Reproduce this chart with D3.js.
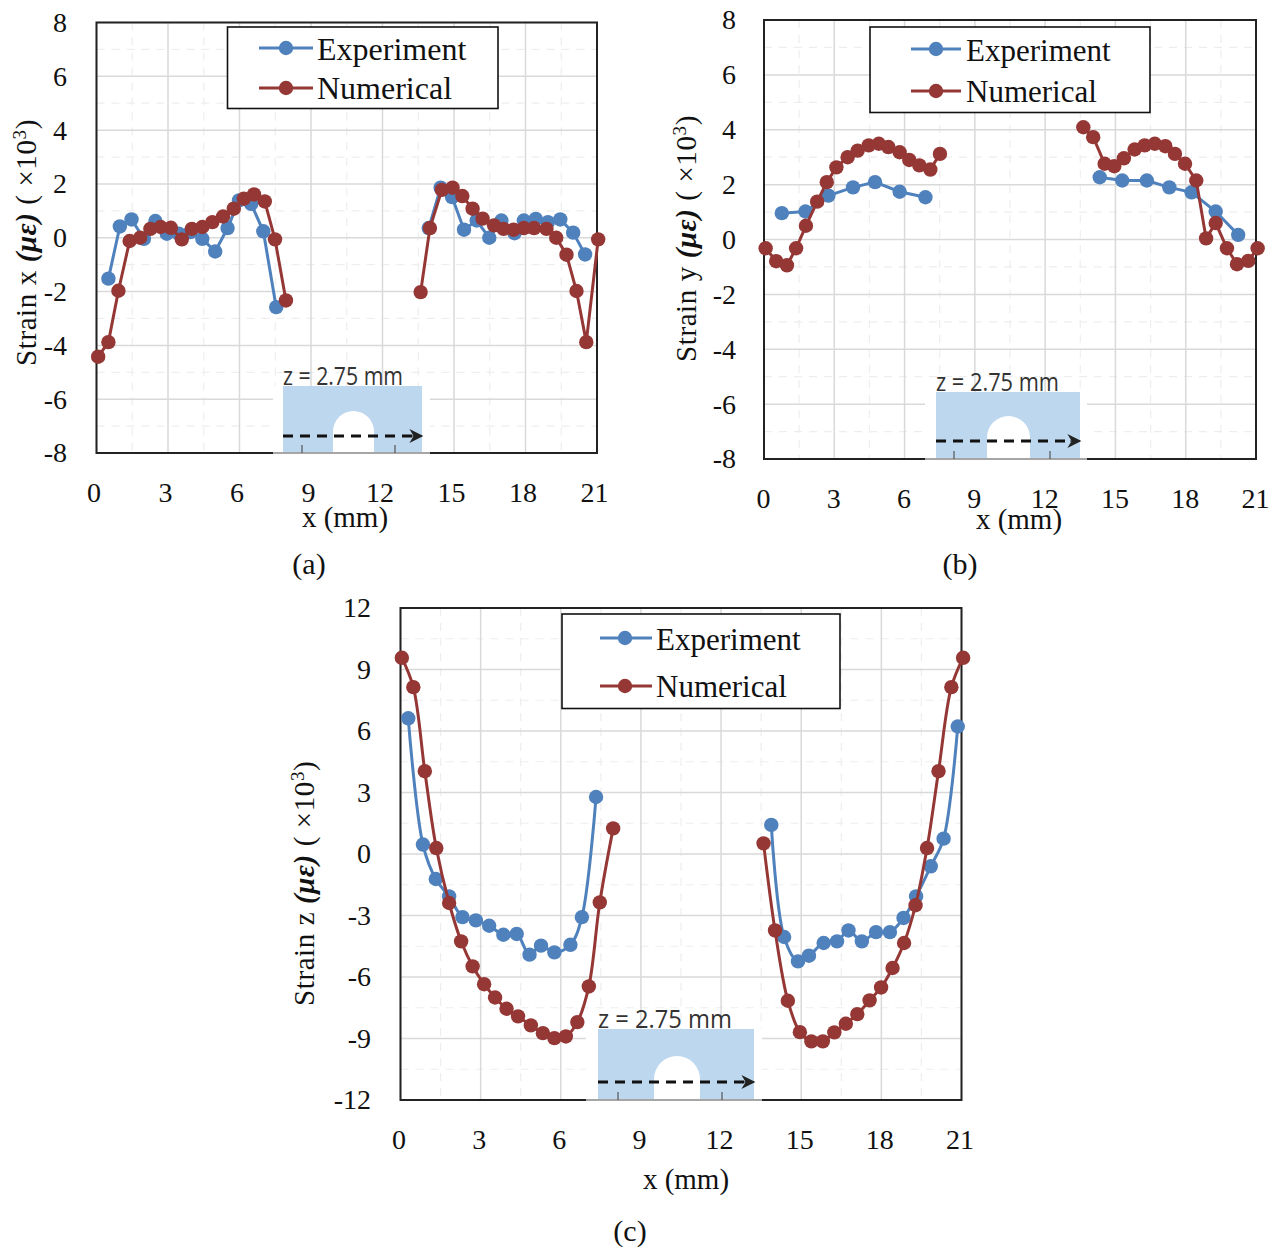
<!DOCTYPE html>
<html>
<head>
<meta charset="utf-8">
<script src="https://cdnjs.cloudflare.com/ajax/libs/d3/7.8.5/d3.min.js"></script>
<style>
  html, body { margin: 0; background: #fff; }
  text { font-family: "Liberation Serif", serif; fill: #111; }
</style>
</head>
<body>
<svg id="fig" width="1282" height="1250"></svg>
<script>
// values, null = gap around the hole
const xTicks = [0, 3, 6, 9, 12, 15, 18, 21];
const yTicksXY = [-8, -6, -4, -2, 0, 2, 4, 6, 8];
const yTicksZ = [-12, -9, -6, -3, 0, 3, 6, 9, 12];
const seriesNames = ['Experiment', 'Numerical'];

const expXa = [0.5, 0.98, 1.47, 1.99, 2.47, 2.95, 3.45, 3.94, 4.44, 4.98, 5.5, 5.98, 6.49, 7.0, 7.54, null,
  13.94, 14.44, 14.92, 15.42, 15.95, 16.48, 16.99, 17.54, 17.93, 18.43, 18.94, 19.46, 20.0, 20.5];
const expYa = [-1.52, 0.42, 0.68, -0.04, 0.62, 0.15, 0.15, 0.21, -0.04, -0.51, 0.36, 1.39, 1.26, 0.24, -2.58, null,
  0.36, 1.86, 1.51, 0.3, 0.64, 0, 0.64, 0.17, 0.64, 0.7, 0.58, 0.68, 0.19, -0.62];
const numXa = [0.07, 0.5, 0.92, 1.39, 1.83, 2.26, 2.69, 3.12, 3.58, 4.0, 4.44, 4.86, 5.31, 5.76, 6.18, 6.61, 7.06, 7.49, 7.95, null,
  13.6, 13.99, 14.49, 14.94, 15.35, 15.78, 16.2, 16.68, 17.08, 17.5, 17.93, 18.36, 18.88, 19.29, 19.72, 20.14, 20.55, 21.05];
const numYa = [-4.42, -3.88, -1.97, -0.12, 0, 0.33, 0.4, 0.37, -0.06, 0.33, 0.4, 0.58, 0.79, 1.08, 1.45, 1.61, 1.35, -0.06, -2.33, null,
  -2.02, 0.36, 1.78, 1.86, 1.55, 1.08, 0.71, 0.46, 0.33, 0.3, 0.36, 0.36, 0.33, 0, -0.63, -1.98, -3.88, -0.06];

const expXb = [0.76, 1.77, 2.75, 3.8, 4.74, 5.79, 6.89, null,
  14.33, 15.29, 16.34, 17.3, 18.25, 19.28, 20.24];
const expYb = [0.96, 1.02, 1.6, 1.9, 2.09, 1.74, 1.54, null,
  2.27, 2.15, 2.15, 1.9, 1.72, 1.02, 0.17];
const numXb = [0.07, 0.52, 0.98, 1.37, 1.79, 2.27, 2.68, 3.09, 3.57, 4.0, 4.47, 4.9, 5.31, 5.79, 6.2, 6.63, 7.1, 7.51, null,
  13.63, 14.05, 14.54, 14.95, 15.36, 15.82, 16.25, 16.68, 17.13, 17.54, 17.97, 18.45, 18.87, 19.28, 19.76, 20.19, 20.67, 21.07];
const numYb = [-0.32, -0.79, -0.94, -0.32, 0.5, 1.38, 2.09, 2.63, 3.0, 3.24, 3.43, 3.49, 3.37, 3.18, 2.9, 2.7, 2.55, 3.12, null,
  4.09, 3.73, 2.76, 2.67, 2.96, 3.28, 3.43, 3.49, 3.4, 3.12, 2.76, 2.15, 0.04, 0.6, -0.32, -0.9, -0.78, -0.32];

const expXc = [0.29, 0.84, 1.32, 1.82, 2.32, 2.82, 3.32, 3.85, 4.35, 4.83, 5.26, 5.76, 6.36, 6.79, 7.32, null,
  13.88, 14.36, 14.88, 15.29, 15.84, 16.34, 16.77, 17.27, 17.8, 18.32, 18.83, 19.3, 19.85, 20.33, 20.86];
const expYc = [6.62, 0.46, -1.22, -2.07, -3.08, -3.24, -3.5, -3.94, -3.9, -4.91, -4.47, -4.8, -4.43, -3.08, 2.78, null,
  1.42, -4.05, -5.24, -4.96, -4.34, -4.26, -3.73, -4.26, -3.81, -3.81, -3.12, -2.07, -0.6, 0.75, 6.22];
const numXc = [0.05, 0.48, 0.91, 1.34, 1.82, 2.27, 2.7, 3.13, 3.54, 3.97, 4.4, 4.88, 5.33, 5.76, 6.19, 6.62, 7.05, 7.46, 7.96, null,
  13.59, 14.02, 14.5, 14.95, 15.38, 15.81, 16.24, 16.67, 17.1, 17.56, 17.99, 18.42, 18.85, 19.28, 19.71, 20.14, 20.62, 21.06];
const numYc = [9.57, 8.14, 4.04, 0.29, -2.39, -4.26, -5.48, -6.35, -7.0, -7.55, -7.92, -8.36, -8.74, -8.98, -8.9, -8.2, -6.46, -2.36, 1.25, null,
  0.52, -3.73, -7.16, -8.69, -9.14, -9.14, -8.7, -8.28, -7.81, -7.14, -6.51, -5.56, -4.34, -2.5, 0.29, 4.04, 8.14, 9.57];

const blue = '#4f81bd';
const red = '#953735';
const colors = [blue, red];
const dotR = 7.2;

// layout of each panel, in page pixels
const panels = [
  {
    axis: 'x', caption: '(a)', yTicks: yTicksXY, minorY: 1,
    exp: [expXa, expYa], num: [numXa, numYa], curve: d3.curveLinear,
    left: 96.5, right: 597, top: 22.5, bottom: 453, xShift: -3,
    yLabelX: 67, xLabelY: 501, xTitle: [345, 527], yTitle: [36, 366], cap: [309, 574],
    legend: { x0: 227.5, x1: 498, y0: 27, y1: 108.5, s0: 259, s1: 313, m: 286, t: 317, rows: [48, 88], base: [59.5, 99], size: 32 },
    inset: { band0: 273, band1: 430, x0: 283, x1: 422, top: 386, n0: 333, n1: 374, nTop: 411, arrow: 436, t0: 302, t1: 395, tx: 283, tw: 120 }
  },
  {
    axis: 'y', caption: '(b)', yTicks: yTicksXY, minorY: 1,
    exp: [expXb, expYb], num: [numXb, numYb], curve: d3.curveLinear,
    left: 764, right: 1256, top: 20, bottom: 459, xShift: -1,
    yLabelX: 736, xLabelY: 507, xTitle: [1019, 529], yTitle: [696, 362], cap: [960, 574],
    legend: { x0: 870, x1: 1150, y0: 27, y1: 112.5, s0: 911, s1: 961, m: 936, t: 966, rows: [49, 91], base: [60.5, 102], size: 31 },
    inset: { band0: 925, band1: 1087, x0: 936, x1: 1080, top: 392, n0: 987, n1: 1030, nTop: 416, arrow: 441, t0: 954, t1: 1050, tx: 936, tw: 123 }
  },
  {
    axis: 'z', caption: '(c)', yTicks: yTicksZ, minorY: 1.5,
    exp: [expXc, expYc], num: [numXc, numYc], curve: d3.curveCatmullRom.alpha(0.5),
    left: 400.5, right: 961.5, top: 608, bottom: 1100, xShift: -2,
    yLabelX: 371, xLabelY: 1148, xTitle: [686, 1189], yTitle: [314, 1006], cap: [630, 1241],
    legend: { x0: 562, x1: 840, y0: 614, y1: 708.5, s0: 600, s1: 652, m: 625, t: 656, rows: [638, 686], base: [649.5, 696.5], size: 31 },
    inset: { band0: 586, band1: 762, x0: 598, x1: 754, top: 1029, n0: 654, n1: 700, nTop: 1056, arrow: 1082, t0: 618, t1: 722, tx: 598, tw: 134 }
  }
];

const svg = d3.select('#fig');

svg.append('defs').append('marker')
  .attr('id', 'head')
  .attr('viewBox', '0 0 10 10')
  .attr('refX', 9)
  .attr('refY', 5)
  .attr('markerWidth', 15)
  .attr('markerHeight', 14)
  .attr('markerUnits', 'userSpaceOnUse')
  .attr('orient', 'auto')
  .append('path')
  .attr('d', 'M0,0 L10,5 L0,10 L3,5 Z')
  .attr('fill', '#222');

const zip = (xs, ys) => xs.map((x, i) => ({ x: x, y: ys[i] }));

const drawPanel = (p) => {
  const g = svg.append('g');
  const yMax = d3.max(p.yTicks);

  const x = d3.scaleLinear().domain([0, 21]).range([p.left, p.right]);
  const y = d3.scaleLinear().domain([-yMax, yMax]).range([p.bottom, p.top]);

  // minor grid first, dashed
  const minorX = d3.range(1.5, 21, 3);
  const minorY = d3.range(-yMax + p.minorY, yMax, p.minorY * 2);

  g.append('g').selectAll('line').data(minorX).enter().append('line')
    .attr('x1', (d) => x(d)).attr('x2', (d) => x(d))
    .attr('y1', p.top).attr('y2', p.bottom)
    .attr('stroke', '#eeeeee').attr('stroke-width', 1.2).attr('stroke-dasharray', '8 7');

  g.append('g').selectAll('line').data(minorY).enter().append('line')
    .attr('x1', p.left).attr('x2', p.right)
    .attr('y1', (d) => y(d)).attr('y2', (d) => y(d))
    .attr('stroke', '#eeeeee').attr('stroke-width', 1.2).attr('stroke-dasharray', '8 7');

  // major grid
  g.append('g').selectAll('line').data(xTicks).enter().append('line')
    .attr('x1', (d) => x(d)).attr('x2', (d) => x(d))
    .attr('y1', p.top).attr('y2', p.bottom)
    .attr('stroke', '#d9d9d9').attr('stroke-width', 1.5);

  g.append('g').selectAll('line').data(p.yTicks).enter().append('line')
    .attr('x1', p.left).attr('x2', p.right)
    .attr('y1', (d) => y(d)).attr('y2', (d) => y(d))
    .attr('stroke', '#d9d9d9').attr('stroke-width', 1.5);

  // frame
  g.append('rect')
    .attr('x', p.left).attr('y', p.top)
    .attr('width', p.right - p.left).attr('height', p.bottom - p.top)
    .attr('fill', 'none').attr('stroke', '#222').attr('stroke-width', 2);

  drawInset(g, p);

  // axes, only the labels are kept
  const xAxis = g.append('g')
    .attr('transform', `translate(${p.xShift}, ${p.xLabelY - 19})`)
    .call(d3.axisBottom(x).tickValues(xTicks).tickSize(0).tickPadding(0).tickFormat((d) => String(d)));
  xAxis.select('.domain').remove();
  xAxis.selectAll('text')
    .attr('font-size', 28).style('font-family', '"Liberation Serif", serif').attr('fill', '#111');

  const yAxis = g.append('g')
    .attr('transform', `translate(${p.yLabelX}, 0)`)
    .call(d3.axisLeft(y).tickValues(p.yTicks).tickSize(0).tickPadding(0).tickFormat((d) => String(d)));
  yAxis.select('.domain').remove();
  yAxis.selectAll('text')
    .attr('font-size', 28).style('font-family', '"Liberation Serif", serif').attr('fill', '#111');

  // series
  [p.exp, p.num].forEach((s, i) => {
    const pts = zip(s[0], s[1]);
    const line = d3.line()
      .defined((d) => d.x !== null)
      .x((d) => x(d.x))
      .y((d) => y(d.y))
      .curve(p.curve);

    g.append('path')
      .attr('d', line(pts))
      .attr('fill', 'none')
      .attr('stroke', colors[i])
      .attr('stroke-width', 3);

    g.append('g').selectAll('circle').data(pts.filter((d) => d.x !== null)).enter().append('circle')
      .attr('cx', (d) => x(d.x))
      .attr('cy', (d) => y(d.y))
      .attr('r', dotR)
      .attr('fill', colors[i]);
  });

  // legend
  const l = p.legend;
  g.append('rect')
    .attr('x', l.x0).attr('y', l.y0)
    .attr('width', l.x1 - l.x0).attr('height', l.y1 - l.y0)
    .attr('fill', '#fff').attr('stroke', '#111').attr('stroke-width', 1.6);

  seriesNames.forEach((name, i) => {
    g.append('line')
      .attr('x1', l.s0).attr('x2', l.s1)
      .attr('y1', l.rows[i]).attr('y2', l.rows[i])
      .attr('stroke', colors[i]).attr('stroke-width', 3);
    g.append('circle')
      .attr('cx', l.m).attr('cy', l.rows[i]).attr('r', dotR).attr('fill', colors[i]);
    g.append('text')
      .attr('x', l.t).attr('y', l.base[i])
      .attr('font-size', l.size)
      .text(name);
  });

  // titles
  g.append('text')
    .attr('x', p.xTitle[0]).attr('y', p.xTitle[1])
    .attr('text-anchor', 'middle').attr('font-size', 29)
    .text('x (mm)');

  g.append('text')
    .attr('x', p.cap[0]).attr('y', p.cap[1])
    .attr('text-anchor', 'middle').attr('font-size', 30)
    .text(p.caption);

  const yt = g.append('text')
    .attr('transform', `translate(${p.yTitle[0]}, ${p.yTitle[1]}) rotate(-90)`)
    .attr('font-size', 29)
    .style('letter-spacing', '0.6px');
  yt.append('tspan').text(`Strain ${p.axis} `);
  yt.append('tspan').attr('font-weight', 'bold').attr('font-style', 'italic').text('(με)');
  yt.append('tspan').text(' ( ×10');
  yt.append('tspan').attr('font-size', 19).attr('dy', -10).text('3');
  yt.append('tspan').attr('dy', 10).text(')');
};

// small sketch of the specimen in the lower part of each plot
const drawInset = (g, p) => {
  const n = p.inset;
  const r = (n.n1 - n.n0) / 2;

  g.append('rect')
    .attr('x', n.band0).attr('y', n.top)
    .attr('width', n.band1 - n.band0).attr('height', p.bottom - n.top)
    .attr('fill', '#fff');

  g.append('path')
    .attr('d', `M${n.x0},${n.top} H${n.x1} V${p.bottom} H${n.n1} V${n.nTop + r} A${r},${r} 0 0 0 ${n.n0},${n.nTop + r} V${p.bottom} H${n.x0} Z`)
    .attr('fill', '#bdd7ee');

  g.append('line')
    .attr('x1', n.band0).attr('x2', n.band1)
    .attr('y1', p.bottom).attr('y2', p.bottom)
    .attr('stroke', '#a6a6a6').attr('stroke-width', 2);

  [n.t0, n.t1].forEach((t) => {
    g.append('line')
      .attr('x1', t).attr('x2', t)
      .attr('y1', p.bottom - 8).attr('y2', p.bottom)
      .attr('stroke', '#555').attr('stroke-width', 1.2);
  });

  g.append('line')
    .attr('x1', n.x0).attr('x2', n.x1 - 9)
    .attr('y1', n.arrow).attr('y2', n.arrow)
    .attr('stroke', '#111').attr('stroke-width', 3).attr('stroke-dasharray', '10 7');

  g.append('line')
    .attr('x1', n.x1 - 10).attr('x2', n.x1)
    .attr('y1', n.arrow).attr('y2', n.arrow)
    .attr('stroke', '#222').attr('stroke-width', 1)
    .attr('marker-end', 'url(#head)');

  g.append('text')
    .attr('x', n.tx).attr('y', n.top - 1)
    .attr('font-size', 26)
    .attr('textLength', n.tw).attr('lengthAdjust', 'spacingAndGlyphs')
    .style('font-family', '"Open Sans", sans-serif').style('fill', '#333')
    .text('z = 2.75 mm');
};

panels.forEach(drawPanel);
</script>
</body>
</html>
